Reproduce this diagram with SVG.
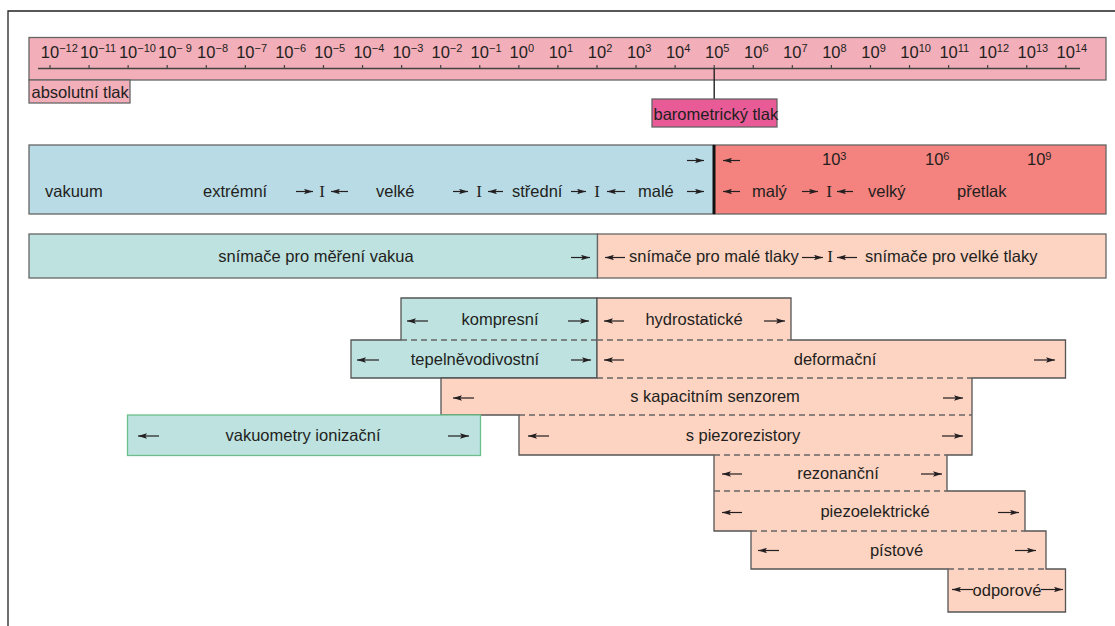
<svg xmlns="http://www.w3.org/2000/svg" width="1115" height="626" viewBox="0 0 1115 626">
<style>
.t{font-family:"Liberation Sans",Arial,Helvetica,sans-serif;font-size:16.5px;fill:#231f20}
.c{text-anchor:middle}
.sc{font-family:"Liberation Sans",Arial,Helvetica,sans-serif;font-size:16.5px;fill:#231f20}
.sp{font-size:11px}
.I{font-family:"Liberation Serif","Times New Roman",serif;font-size:17px;fill:#231f20;text-anchor:middle}
.ol{fill:none;stroke:#555;stroke-width:1.3}
.ds{fill:none;stroke:#666;stroke-width:1.3;stroke-dasharray:6,4}
.ar{fill:none;stroke:#231f20;stroke-width:1.2;marker-end:url(#ah)}
.teal{fill:#bde2e0}
.peach{fill:#fdd3c2}
</style>
<defs>
<marker id="ah" viewBox="0 0 10 6" refX="10" refY="3" markerWidth="9" markerHeight="5.5" markerUnits="userSpaceOnUse" orient="auto"><path d="M0,0 L10,3 L0,6 L2,3 Z" fill="#231f20"/></marker>
</defs>
<rect width="1115" height="626" fill="#fff"/>
<g id="frame"><path d="M8,626 V11 H1115" fill="none" stroke="#222" stroke-width="1.3"/></g>

<g id="scale">
<rect x="29" y="37.5" width="1077" height="42.5" fill="#f2aeb9" stroke="#666" stroke-width="1.3"/>
<path d="M38,68.5 H1080" stroke="#444" stroke-width="1.3"/>
<path d="M50,65 V68.5 M89.07,65 V68.5 M128.14,65 V68.5 M167.21,65 V68.5 M206.28,65 V68.5 M245.35,65 V68.5 M284.42,65 V68.5 M323.49,65 V68.5 M362.56,65 V68.5 M401.63,65 V68.5 M440.7,65 V68.5 M479.77,65 V68.5 M518.84,65 V68.5 M557.91,65 V68.5 M596.98,65 V68.5 M636.05,65 V68.5 M675.12,65 V68.5 M714.19,65 V68.5 M753.26,65 V68.5 M792.33,65 V68.5 M831.4,65 V68.5 M870.47,65 V68.5 M909.54,65 V68.5 M948.61,65 V68.5 M987.68,65 V68.5 M1026.75,65 V68.5 M1065.82,65 V68.5" stroke="#444" stroke-width="1.2"/>
<text class="sc" y="57.5">
<tspan x="40.8">10</tspan><tspan class="sp" dy="-5.5">−12</tspan>
<tspan x="79.9" dy="5.5">10</tspan><tspan class="sp" dy="-5.5">−11</tspan>
<tspan x="118.9" dy="5.5">10</tspan><tspan class="sp" dy="-5.5">−10</tspan>
<tspan x="158" dy="5.5">10</tspan><tspan class="sp" dy="-5.5">− 9</tspan>
<tspan x="197.1" dy="5.5">10</tspan><tspan class="sp" dy="-5.5">−8</tspan>
<tspan x="236.2" dy="5.5">10</tspan><tspan class="sp" dy="-5.5">−7</tspan>
<tspan x="275.2" dy="5.5">10</tspan><tspan class="sp" dy="-5.5">−6</tspan>
<tspan x="314.3" dy="5.5">10</tspan><tspan class="sp" dy="-5.5">−5</tspan>
<tspan x="353.4" dy="5.5">10</tspan><tspan class="sp" dy="-5.5">−4</tspan>
<tspan x="392.4" dy="5.5">10</tspan><tspan class="sp" dy="-5.5">−3</tspan>
<tspan x="431.5" dy="5.5">10</tspan><tspan class="sp" dy="-5.5">−2</tspan>
<tspan x="470.6" dy="5.5">10</tspan><tspan class="sp" dy="-5.5">−1</tspan>
<tspan x="509.6" dy="5.5">10</tspan><tspan class="sp" dy="-5.5">0</tspan>
<tspan x="548.7" dy="5.5">10</tspan><tspan class="sp" dy="-5.5">1</tspan>
<tspan x="587.8" dy="5.5">10</tspan><tspan class="sp" dy="-5.5">2</tspan>
<tspan x="626.9" dy="5.5">10</tspan><tspan class="sp" dy="-5.5">3</tspan>
<tspan x="665.9" dy="5.5">10</tspan><tspan class="sp" dy="-5.5">4</tspan>
<tspan x="705" dy="5.5">10</tspan><tspan class="sp" dy="-5.5">5</tspan>
<tspan x="744.1" dy="5.5">10</tspan><tspan class="sp" dy="-5.5">6</tspan>
<tspan x="783.1" dy="5.5">10</tspan><tspan class="sp" dy="-5.5">7</tspan>
<tspan x="822.2" dy="5.5">10</tspan><tspan class="sp" dy="-5.5">8</tspan>
<tspan x="861.3" dy="5.5">10</tspan><tspan class="sp" dy="-5.5">9</tspan>
<tspan x="900.3" dy="5.5">10</tspan><tspan class="sp" dy="-5.5">10</tspan>
<tspan x="939.4" dy="5.5">10</tspan><tspan class="sp" dy="-5.5">11</tspan>
<tspan x="978.5" dy="5.5">10</tspan><tspan class="sp" dy="-5.5">12</tspan>
<tspan x="1017.6" dy="5.5">10</tspan><tspan class="sp" dy="-5.5">13</tspan>
<tspan x="1056.6" dy="5.5">10</tspan><tspan class="sp" dy="-5.5">14</tspan>
</text>
</g>

<g id="absolutni">
<rect x="29" y="80" width="101" height="23" fill="#f2aeb9" stroke="#666" stroke-width="1.3"/>
<text class="t" x="31.5" y="98">absolutní tlak</text>
</g>

<g id="barometricky">
<path d="M714.2,68.5 V99" stroke="#222" stroke-width="1.4"/>
<rect x="652" y="99" width="125" height="28" fill="#e85b97" stroke="#666" stroke-width="1.3"/>
<text class="t" x="653.5" y="119.5">barometrický tlak</text>
</g>

<g id="vakuum-band">
<rect x="29" y="145" width="685" height="69" fill="#b8dbe6" stroke="#666" stroke-width="1.3"/>
<text class="t" x="45" y="197">vakuum</text>
<text class="t" x="203" y="197">extrémní</text>
<text class="t" x="376" y="197">velké</text>
<text class="t" x="512" y="197">střední</text>
<text class="t" x="638" y="197">malé</text>
<text class="I" x="322" y="197">I</text>
<text class="I" x="479" y="197">I</text>
<text class="I" x="597" y="197">I</text>
</g>

<g id="pretlak-band">
<rect x="714" y="145" width="392" height="69" fill="#f4837f" stroke="#666" stroke-width="1.3"/>
<text class="t" x="752" y="197">malý</text>
<text class="t" x="868" y="197">velký</text>
<text class="t" x="957" y="197">přetlak</text>
<text class="I" x="829" y="197">I</text>
<text class="sc" y="165"><tspan x="822">10</tspan><tspan class="sp" dy="-5.5">3</tspan><tspan x="925" dy="5.5">10</tspan><tspan class="sp" dy="-5.5">6</tspan><tspan x="1027" dy="5.5">10</tspan><tspan class="sp" dy="-5.5">9</tspan></text>
<path d="M714,145 V214" stroke="#111" stroke-width="3"/>
</g>

<g id="snimace-vakua">
<rect x="29" y="234" width="568.5" height="44" fill="#bde2e0" stroke="#666" stroke-width="1.3"/>
<text class="t c" x="316" y="262">snímače pro měření vakua</text>
</g>

<g id="snimace-tlaky">
<rect x="597.5" y="234" width="508.5" height="44" fill="#fdd3c2" stroke="#666" stroke-width="1.3"/>
<text class="t" x="629" y="262">snímače pro malé tlaky</text>
<text class="I" x="830" y="262">I</text>
<text class="t" x="865" y="262">snímače pro velké tlaky</text>
</g>

<g id="teal-group">
<rect class="teal" x="401" y="298" width="196" height="42"/>
<rect class="teal" x="351" y="340" width="246" height="38"/>
<path class="ol" d="M351,340 H401 V298 H597 V378 H351 Z"/>
<path class="ds" d="M401,340 H597"/>
<text class="t c" x="500" y="325">kompresní</text>
<text class="t c" x="475" y="365">tepelněvodivostní</text>
</g>

<g id="peach-group">
<rect class="peach" x="597" y="298" width="194" height="42"/>
<rect class="peach" x="597" y="340" width="468.5" height="38"/>
<rect class="peach" x="441" y="378" width="531" height="37"/>
<rect class="peach" x="519" y="415" width="453" height="40"/>
<rect class="peach" x="714" y="455" width="233" height="36"/>
<rect class="peach" x="714" y="491" width="311" height="40"/>
<rect class="peach" x="751" y="531" width="295" height="38"/>
<rect class="peach" x="948" y="569" width="117.5" height="43"/>
<path class="ol" d="M597,298 H791 V340 H1065.5 V378 H972 V455 H947 V491 H1025 V531 H1046 V569 H1065.5 V612 H948 V569 H751 V531 H714 V455 H519 V415 H441 V378 H597 Z"/>
<path class="ds" d="M597,340 H791 M597,378 H972 M519,415 H972 M714,455 H947 M714,491 H947 M751,531 H1025 M948,569 H1046"/>
<text class="t c" x="694" y="325">hydrostatické</text>
<text class="t c" x="835" y="365">deformační</text>
<text class="t c" x="715" y="402">s kapacitním senzorem</text>
<text class="t c" x="743" y="441">s piezorezistory</text>
<text class="t c" x="838" y="479">rezonanční</text>
<text class="t c" x="875" y="517">piezoelektrické</text>
<text class="t c" x="896.5" y="556">pístové</text>
<text class="t c" x="1007" y="596">odporové</text>
</g>

<g id="vakuometry">
<rect x="127.5" y="415" width="353" height="40.5" fill="#bde2e0" stroke="#6cbf8a" stroke-width="1.3"/>
<text class="t c" x="303" y="441">vakuometry ionizační</text>
</g>

<g id="connectors">
<path class="ar" d="M296,191.5 H313"/>
<path class="ar" d="M348,191.5 H331"/>
<path class="ar" d="M453,191.5 H468"/>
<path class="ar" d="M503,191.5 H488"/>
<path class="ar" d="M571,191.5 H586"/>
<path class="ar" d="M625,191.5 H607"/>
<path class="ar" d="M687,191.5 H704"/>
<path class="ar" d="M687,160.5 H704"/>
<path class="ar" d="M740,160.5 H723"/>
<path class="ar" d="M740,191.5 H723"/>
<path class="ar" d="M802,191.5 H818"/>
<path class="ar" d="M853,191.5 H837"/>
<path class="ar" d="M571,257.5 H590"/>
<path class="ar" d="M625,257.5 H605"/>
<path class="ar" d="M802,257.5 H823"/>
<path class="ar" d="M857,257.5 H837"/>
<path class="ar" d="M428,321 H407"/>
<path class="ar" d="M568,321 H589"/>
<path class="ar" d="M624,321 H604"/>
<path class="ar" d="M764,321 H785"/>
<path class="ar" d="M379,360 H357"/>
<path class="ar" d="M571,360 H591"/>
<path class="ar" d="M624,360 H604"/>
<path class="ar" d="M1034,360 H1055"/>
<path class="ar" d="M474,398 H453"/>
<path class="ar" d="M943,398 H963"/>
<path class="ar" d="M159,436 H138"/>
<path class="ar" d="M448,436 H469"/>
<path class="ar" d="M549,436 H528"/>
<path class="ar" d="M942,436 H963"/>
<path class="ar" d="M742,474 H722"/>
<path class="ar" d="M921,474 H942"/>
<path class="ar" d="M742,512.5 H722"/>
<path class="ar" d="M998,512.5 H1019"/>
<path class="ar" d="M779,550.5 H758"/>
<path class="ar" d="M1015,550.5 H1036"/>
<path class="ar" d="M973,589.5 H952"/>
<path class="ar" d="M1041,589.5 H1063"/>
</g>
</svg>
